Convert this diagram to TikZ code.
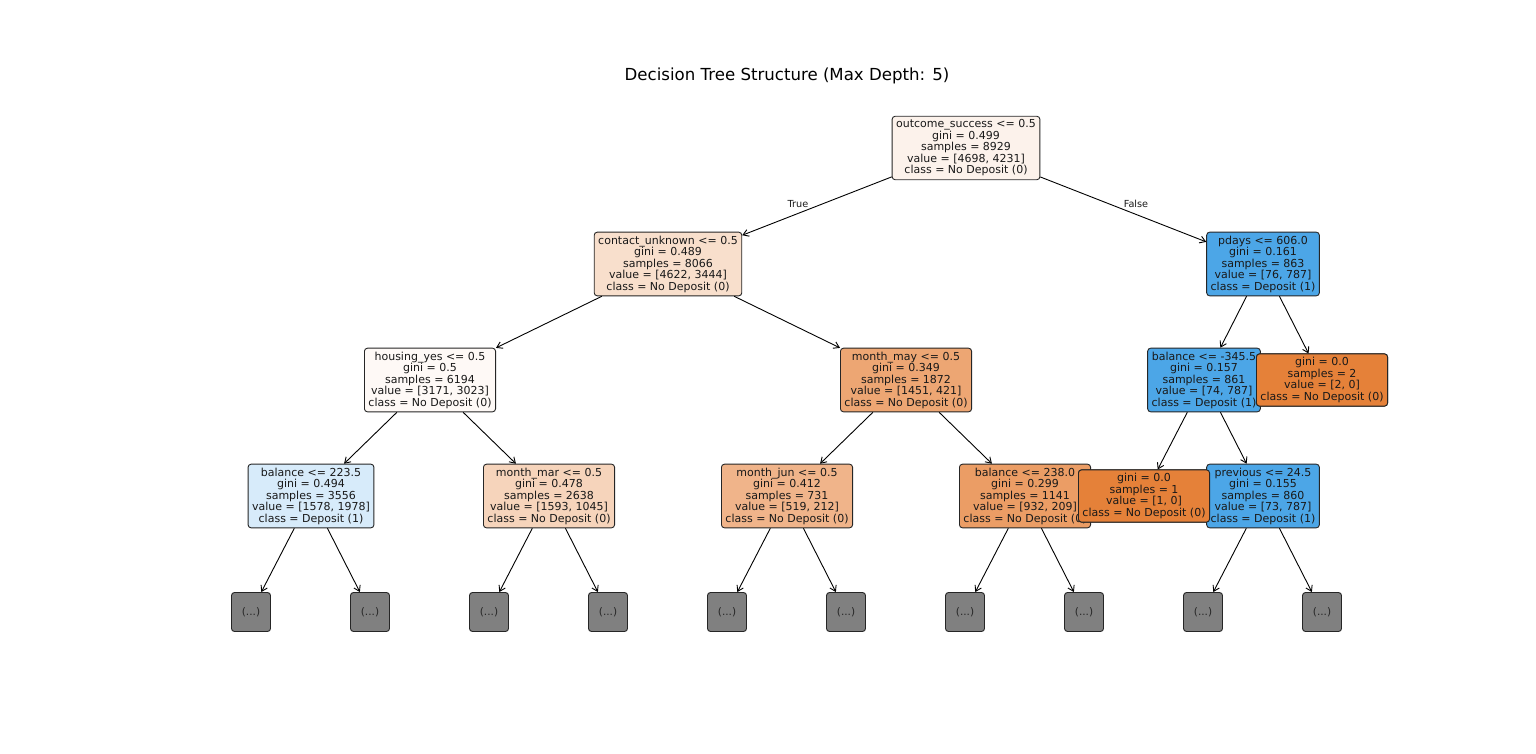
\documentclass[tikz,border=0pt]{standalone}
\usepackage{fontspec}
\setmainfont{DejaVu Sans}
\usetikzlibrary{arrows.meta}
\definecolor{cTop}{RGB}{252,242,235}
\definecolor{cContact}{RGB}{248,223,204}
\definecolor{cBlue}{RGB}{76,166,231}
\definecolor{cHousing}{RGB}{254,249,246}
\definecolor{cMay}{RGB}{237,166,115}
\definecolor{cOrange}{RGB}{229,129,57}
\definecolor{cBal}{RGB}{215,235,250}
\definecolor{cMar}{RGB}{246,212,187}
\definecolor{cJun}{RGB}{240,180,138}
\definecolor{cBalB}{RGB}{235,157,101}
\definecolor{cGrey}{RGB}{128,128,128}
\tikzset{
  tnode/.style={draw=black!85, line width=0.9pt, rounded corners=3pt, align=center,
    inner xsep=4pt, inner ysep=3.5pt,
    font=\fontsize{11}{11.5}\selectfont, text=black!90},
  trunc/.style={draw=black!85, line width=0.9pt, rounded corners=3pt, fill=cGrey,
    minimum width=39pt, minimum height=39pt, inner sep=0pt,
    font=\fontsize{10.5}{11}\selectfont, text=black!85},
  edge/.style={-{Straight Barb[length=5.5pt,width=7pt]}, line width=0.9pt, black},
  elabel/.style={font=\fontsize{9.7}{10}\selectfont, text=black!90},
}
\begin{document}
\begin{tikzpicture}[x=1pt,y=-1pt]
\useasboundingbox (0,0) rectangle (1536,754);
\node[font=\fontsize{16.6}{18}\selectfont] (title) at (787,76) {Decision Tree Structure (Max Depth: 5)};

% level 0
\node[tnode, fill=cTop] (n0) at (966,148) {outcome\_success <= 0.5\\gini = 0.499\\samples = 8929\\value = [4698, 4231]\\class = No Deposit (0)};
% level 1
\node[tnode, fill=cContact] (n1) at (668,264) {contact\_unknown <= 0.5\\gini = 0.489\\samples = 8066\\value = [4622, 3444]\\class = No Deposit (0)};
\node[tnode, fill=cBlue] (n2) at (1263,264) {pdays <= 606.0\\gini = 0.161\\samples = 863\\value = [76, 787]\\class = Deposit (1)};
% level 2
\node[tnode, fill=cHousing] (n3) at (430,380) {housing\_yes <= 0.5\\gini = 0.5\\samples = 6194\\value = [3171, 3023]\\class = No Deposit (0)};
\node[tnode, fill=cMay] (n4) at (906,380) {month\_may <= 0.5\\gini = 0.349\\samples = 1872\\value = [1451, 421]\\class = No Deposit (0)};
\node[tnode, fill=cBlue] (n5) at (1204,380) {balance <= -345.5\\gini = 0.157\\samples = 861\\value = [74, 787]\\class = Deposit (1)};
\node[tnode, fill=cOrange] (n6) at (1322,380) {gini = 0.0\\samples = 2\\value = [2, 0]\\class = No Deposit (0)};
% level 3
\node[tnode, fill=cBal] (n7) at (311,496) {balance <= 223.5\\gini = 0.494\\samples = 3556\\value = [1578, 1978]\\class = Deposit (1)};
\node[tnode, fill=cMar] (n8) at (549,496) {month\_mar <= 0.5\\gini = 0.478\\samples = 2638\\value = [1593, 1045]\\class = No Deposit (0)};
\node[tnode, fill=cJun] (n9) at (787,496) {month\_jun <= 0.5\\gini = 0.412\\samples = 731\\value = [519, 212]\\class = No Deposit (0)};
\node[tnode, fill=cBalB] (n10) at (1025,496) {balance <= 238.0\\gini = 0.299\\samples = 1141\\value = [932, 209]\\class = No Deposit (0)};
\node[tnode, fill=cOrange] (n11) at (1144,496) {gini = 0.0\\samples = 1\\value = [1, 0]\\class = No Deposit (0)};
\node[tnode, fill=cBlue] (n12) at (1263,496) {previous <= 24.5\\gini = 0.155\\samples = 860\\value = [73, 787]\\class = Deposit (1)};
% level 4 truncated
\node[trunc] (t1) at (251,612) {(...)};
\node[trunc] (t2) at (370,612) {(...)};
\node[trunc] (t3) at (489,612) {(...)};
\node[trunc] (t4) at (608,612) {(...)};
\node[trunc] (t5) at (727,612) {(...)};
\node[trunc] (t6) at (846,612) {(...)};
\node[trunc] (t7) at (965,612) {(...)};
\node[trunc] (t8) at (1084,612) {(...)};
\node[trunc] (t9) at (1203,612) {(...)};
\node[trunc] (t10) at (1322,612) {(...)};

% edges
\draw[edge] (n0) -- (n1);
\draw[edge] (n0) -- (n2);
\draw[edge] (n1) -- (n3);
\draw[edge] (n1) -- (n4);
\draw[edge] (n2) -- (n5);
\draw[edge] (n2) -- (n6);
\draw[edge] (n3) -- (n7);
\draw[edge] (n3) -- (n8);
\draw[edge] (n4) -- (n9);
\draw[edge] (n4) -- (n10);
\draw[edge] (n5) -- (n11);
\draw[edge] (n5) -- (n12);
\draw[edge] (n7) -- (t1);
\draw[edge] (n7) -- (t2);
\draw[edge] (n8) -- (t3);
\draw[edge] (n8) -- (t4);
\draw[edge] (n9) -- (t5);
\draw[edge] (n9) -- (t6);
\draw[edge] (n10) -- (t7);
\draw[edge] (n10) -- (t8);
\draw[edge] (n12) -- (t9);
\draw[edge] (n12) -- (t10);

% redraw overlapping nodes on top (leaf n11 over n10, n6 over n5)
\node[tnode, fill=cOrange] at (n11) {gini = 0.0\\samples = 1\\value = [1, 0]\\class = No Deposit (0)};
\node[tnode, fill=cOrange] at (n6) {gini = 0.0\\samples = 2\\value = [2, 0]\\class = No Deposit (0)};

\node[elabel] (lt) at (798,204) {True};
\node[elabel] (lf) at (1136,204) {False};
\end{tikzpicture}
\end{document}
